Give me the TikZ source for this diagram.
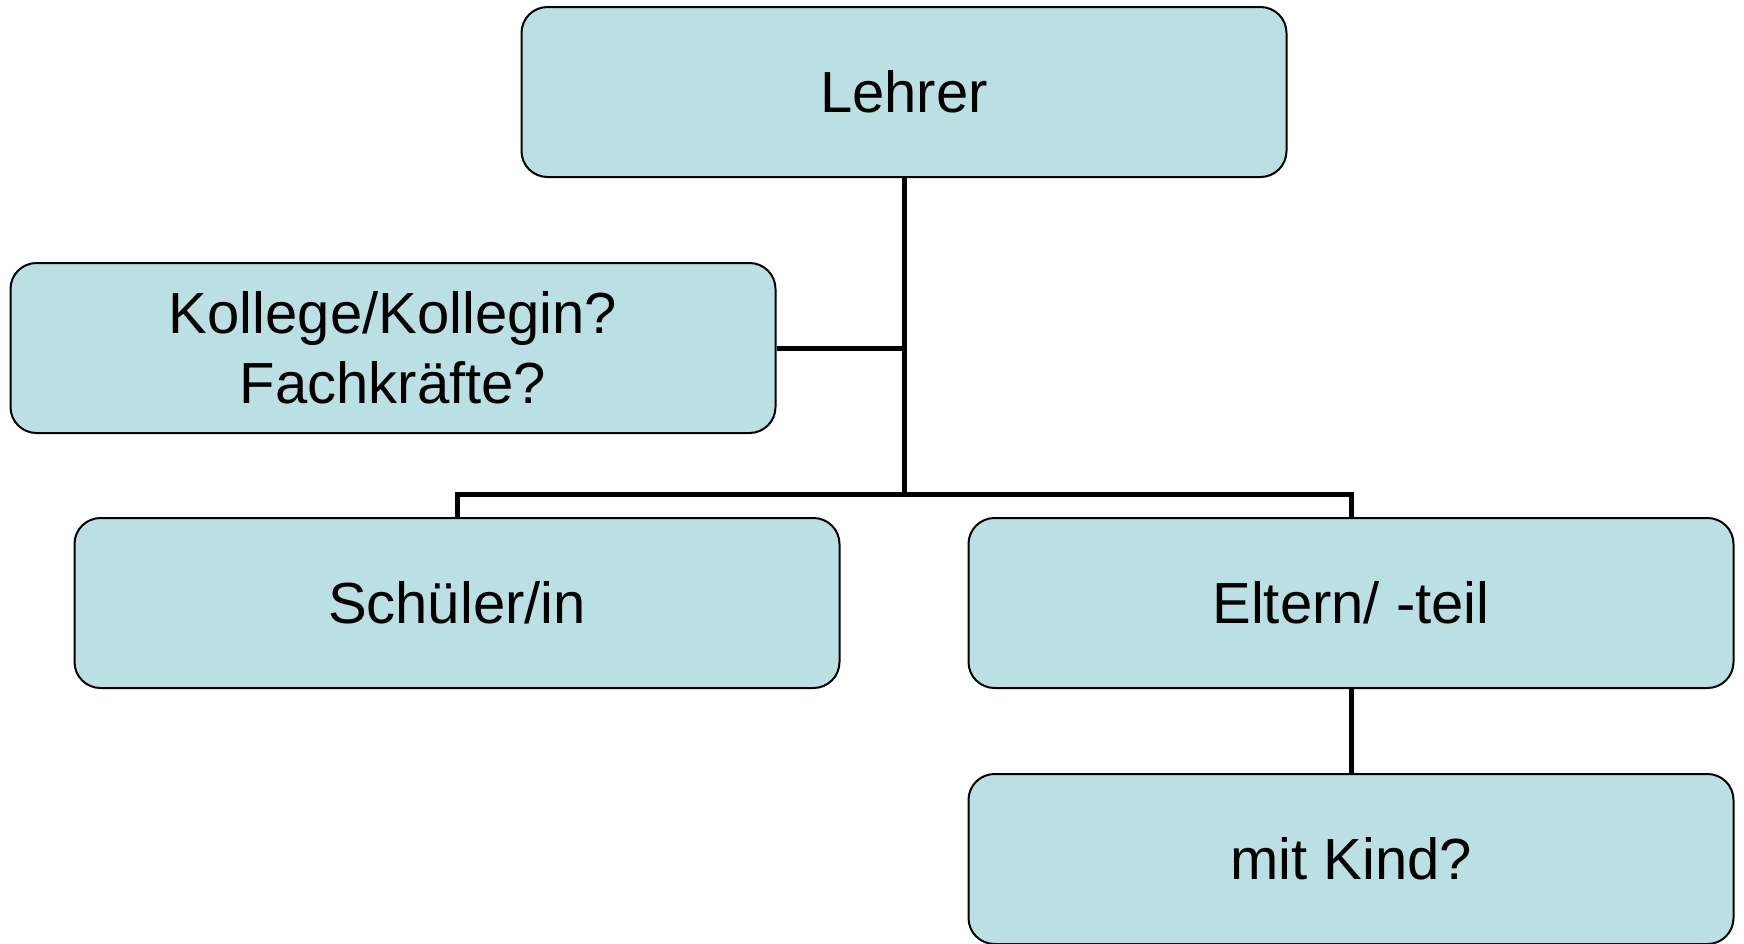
\documentclass[tikz,border=0pt]{standalone}
\usepackage{fontspec}
\setmainfont{Liberation Sans}
\usetikzlibrary{backgrounds}
\definecolor{boxfill}{HTML}{BBE0E3}
\tikzset{
  orgbox/.style={draw=black, line width=2pt, fill=boxfill, rectangle,
    rounded corners=26pt, minimum width=765pt, minimum height=170pt,
    inner sep=0pt, align=center, font=\fontsize{58}{70}\selectfont},
  link/.style={draw=black, line width=5pt, line join=miter}
}
\begin{document}
\begin{tikzpicture}[x=1pt,y=-1pt]
\useasboundingbox (0,0) rectangle (1744,943);
\node[orgbox] (lehrer) at (904,92) {Lehrer};
\node[orgbox] (kollege) at (393,348) {Kollege/Kollegin?\\Fachkräfte?};
\node[orgbox] (schueler) at (457,603) {Schüler/in};
\node[orgbox] (eltern) at (1351,603) {Eltern/ -teil};
\node[orgbox] (kind) at (1351,859) {mit Kind?};
\coordinate (bar) at (904,494);
\begin{scope}[on background layer]
\draw[link] (lehrer.south) -- (bar);
\draw[link] (kollege.east) -- (kollege.east -| lehrer.south);
\draw[link] (schueler.north) |- (bar) -| (eltern.north);
\draw[link] (eltern.south) -- (kind.north);
\end{scope}
\end{tikzpicture}
\end{document}
